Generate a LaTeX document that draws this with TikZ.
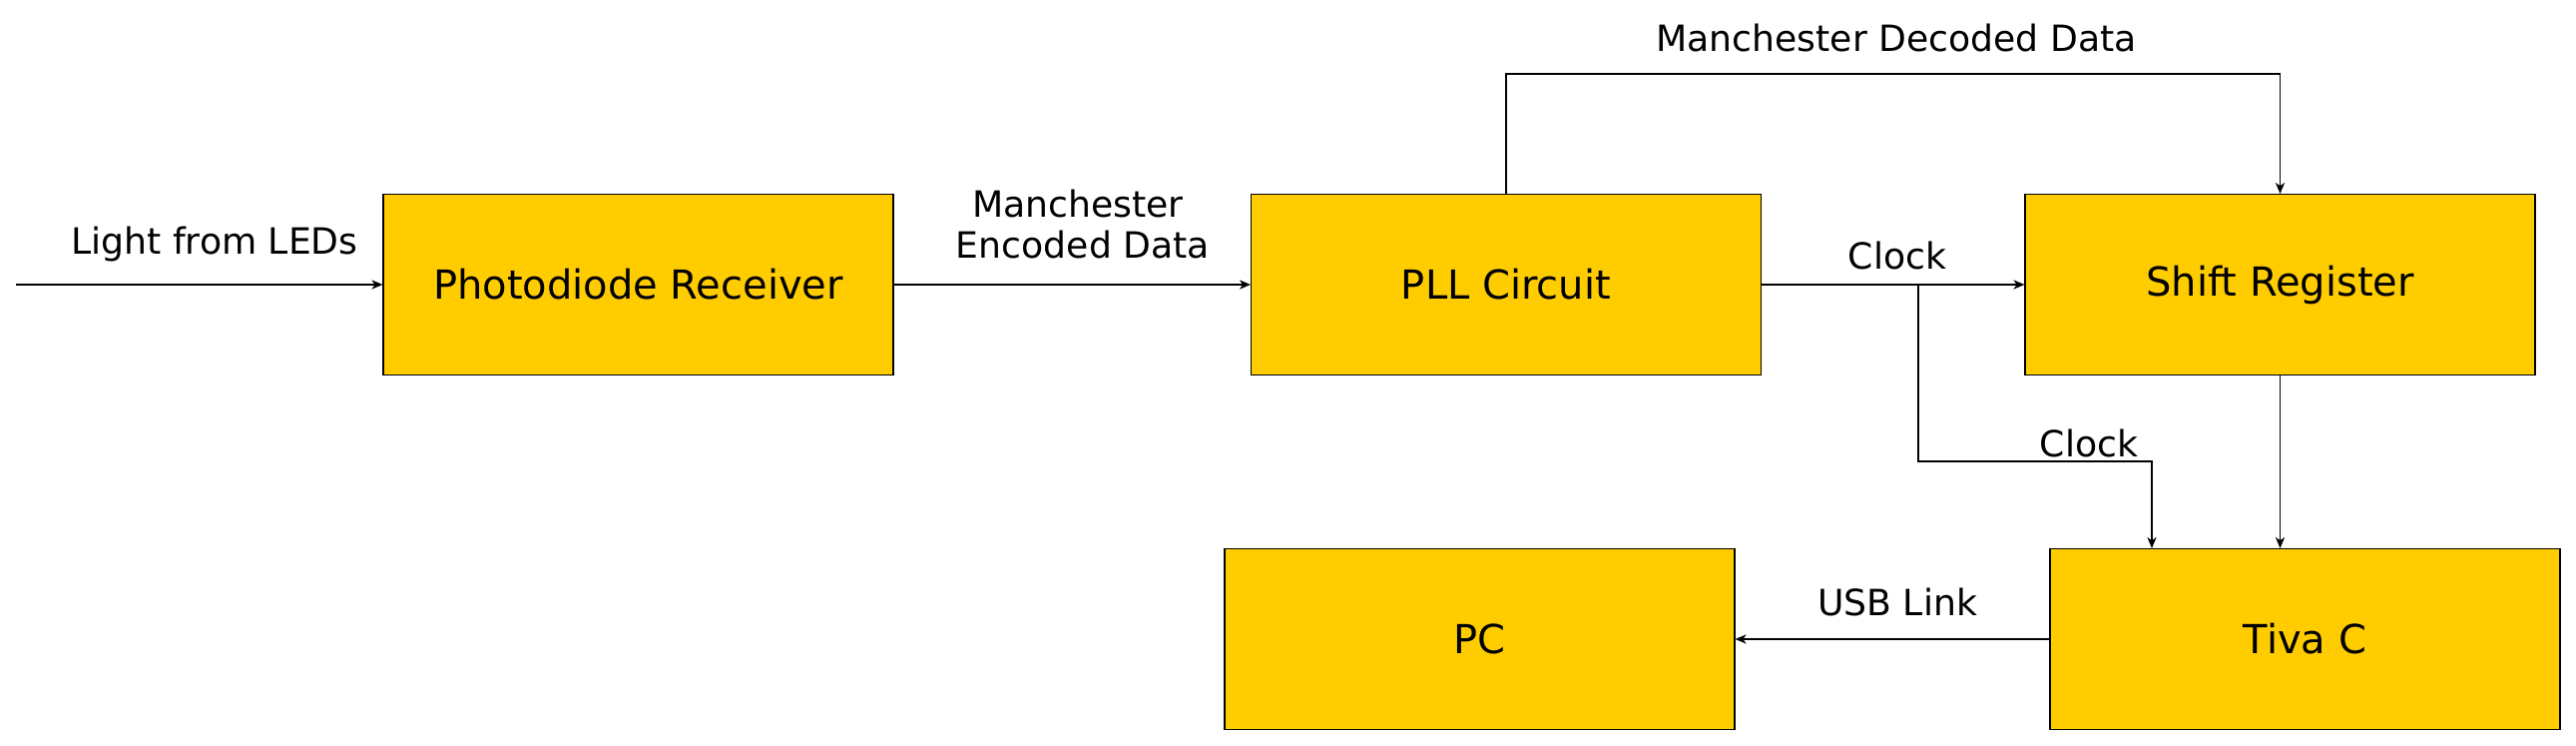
\documentclass[tikz,border=0pt]{standalone}
\usepackage{fontspec}
\setmainfont{DejaVu Sans}
\usetikzlibrary{arrows.meta}
\definecolor{blockyellow}{HTML}{FFCC00}

\begin{document}
\begin{tikzpicture}[x=0.5pt,y=-0.5pt,
  block/.style={draw=black,line width=0.55pt,fill=blockyellow,minimum width=255.5pt,minimum height=90.5pt,inner sep=0pt,font=\fontsize{20}{24}\selectfont},
  arr/.style={line width=0.55pt,-{Stealth[length=5.5pt,width=4.6pt,inset=1.6pt]}},
  lbl/.style={anchor=base,inner sep=0pt,font=\fontsize{18.1}{22}\selectfont,align=center}]
\useasboundingbox (0,0) rectangle (2581,747);

% blocks
\node[block] (photo) at (639.5,285) {Photodiode Receiver};
\node[block] (pll) at (1509,285) {PLL Circuit};
\node[block] (shift) at (2284.5,285) {Shift Register};
\node[block] (pc) at (1482.5,640) {PC};
\node[block] (tiva) at (2309.5,640) {Tiva C};

\coordinate (light) at (16,285);
\coordinate (dec) at (1509,74);
\coordinate (split) at (1922,285);
\coordinate (clk) at (1922,462);
\coordinate (clkin) at (2156,549);

% connectors
\draw[arr] (light) -- (photo.west);
\draw[arr] (photo.east) -- (pll.west);
\draw[arr] (pll.east) -- (shift.west);
\draw[arr] (pll.north) -- (dec) -| (shift.north);
\draw[arr] (split) -- (clk) -| (clkin);
\draw[arr] (shift.south) -- (shift.south |- tiva.north);
\draw[arr] (tiva.west) -- (pc.east);

% labels
\node[lbl] (lightlbl) at (215,255) {Light from LEDs};
\node[lbl] (enclbl1) at (1080,218) {Manchester};
\node[lbl] (enclbl2) at (1085,259) {Encoded Data};
\node[lbl] (declbl) at (1900,52) {Manchester Decoded Data};
\node[lbl] (clklbl1) at (1901,270) {Clock};
\node[lbl] (clklbl2) at (2093,458) {Clock};
\node[lbl] (usblbl) at (1901,617) {USB Link};
\end{tikzpicture}
\end{document}
